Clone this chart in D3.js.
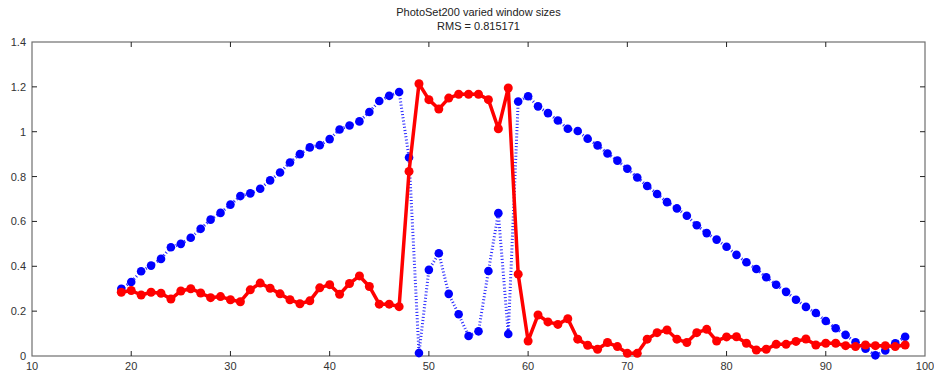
<!DOCTYPE html>
<html>
<head>
<meta charset="utf-8">
<script src="https://cdn.jsdelivr.net/npm/d3@7"></script>
<style>
  body { margin: 0; background: #fff; }
  text { font-family: "Liberation Sans", Arial, sans-serif; }
</style>
</head>
<body>
<svg id="canvas" width="934" height="375"></svg>
<script>
var xs = [19, 20, 21, 22, 23, 24, 25, 26, 27, 28, 29, 30, 31, 32, 33, 34, 35, 36, 37, 38,
    39, 40, 41, 42, 43, 44, 45, 46, 47, 48, 49, 50, 51, 52, 53, 54, 55, 56, 57, 58,
    59, 60, 61, 62, 63, 64, 65, 66, 67, 68, 69, 70, 71, 72, 73, 74, 75, 76, 77, 78,
    79, 80, 81, 82, 83, 84, 85, 86, 87, 88, 89, 90, 91, 92, 93, 94, 95, 96, 97, 98];

var blueValues = [0.30, 0.33, 0.378, 0.403, 0.433, 0.485, 0.50, 0.527, 0.567, 0.608,
    0.638, 0.675, 0.713, 0.725, 0.746, 0.783, 0.818, 0.863, 0.90, 0.93,
    0.94, 0.967, 1.01, 1.028, 1.046, 1.088, 1.137, 1.16, 1.177, 0.885,
    0.013, 0.384, 0.458, 0.277, 0.186, 0.089, 0.11, 0.379, 0.637, 0.098,
    1.135, 1.158, 1.113, 1.083, 1.05, 1.013, 1.003, 0.969, 0.939, 0.903,
    0.871, 0.835, 0.796, 0.758, 0.722, 0.686, 0.658, 0.625, 0.583, 0.548,
    0.519, 0.487, 0.451, 0.418, 0.388, 0.351, 0.318, 0.286, 0.251, 0.219,
    0.192, 0.156, 0.124, 0.094, 0.061, 0.033, 0.003, 0.025, 0.057, 0.086];

var redValues = [0.284, 0.292, 0.272, 0.284, 0.28, 0.254, 0.29, 0.30, 0.281, 0.26,
    0.265, 0.251, 0.242, 0.295, 0.325, 0.302, 0.277, 0.251, 0.233, 0.246,
    0.304, 0.318, 0.275, 0.323, 0.357, 0.31, 0.231, 0.231, 0.22, 0.823,
    1.214, 1.143, 1.101, 1.15, 1.167, 1.167, 1.167, 1.143, 1.013, 1.195,
    0.365, 0.067, 0.183, 0.152, 0.141, 0.166, 0.075, 0.048, 0.03, 0.06,
    0.042, 0.012, 0.012, 0.075, 0.104, 0.116, 0.075, 0.06, 0.104, 0.119,
    0.067, 0.085, 0.086, 0.057, 0.027, 0.03, 0.052, 0.052, 0.065, 0.076,
    0.049, 0.057, 0.057, 0.046, 0.042, 0.049, 0.046, 0.046, 0.042, 0.049];

var xTicks = [10, 20, 30, 40, 50, 60, 70, 80, 90, 100];
var yTicks = [0, 0.2, 0.4, 0.6, 0.8, 1, 1.2, 1.4];
var titleLines = ['PhotoSet200 varied window sizes', 'RMS = 0.815171'];

(function() {
    var svg = d3.select('#canvas');
    var left = 32, right = 925, plotTop = 42, plotBottom = 356;

    var x = d3.scaleLinear().domain([10, 100]).range([left, right]);
    var y = d3.scaleLinear().domain([0, 1.4]).range([plotBottom, plotTop]);

    var blue = xs.map(function(d, i) { return { x: d, y: blueValues[i] }; });
    var red = xs.map(function(d, i) { return { x: d, y: redValues[i] }; });

    var line = d3.line()
        .x(function(d) { return x(d.x); })
        .y(function(d) { return y(d.y); });

    // frame
    svg.append('rect')
        .attr('x', left)
        .attr('y', plotTop)
        .attr('width', right - left)
        .attr('height', plotBottom - plotTop)
        .attr('fill', 'none')
        .attr('stroke', '#6f6f6f')
        .attr('stroke-width', 1.2);

    // ticks on all four sides, pointing inward
    var tickLen = 5;
    xTicks.forEach(function(t) {
        if (t === 10 || t === 100) return;
        svg.append('line').attr('x1', x(t)).attr('x2', x(t))
            .attr('y1', plotBottom).attr('y2', plotBottom - tickLen)
            .attr('stroke', '#222').attr('stroke-width', 1);
        svg.append('line').attr('x1', x(t)).attr('x2', x(t))
            .attr('y1', plotTop).attr('y2', plotTop + tickLen)
            .attr('stroke', '#222').attr('stroke-width', 1);
    });
    yTicks.forEach(function(t) {
        if (t === 0 || t === 1.4) return;
        svg.append('line').attr('x1', left).attr('x2', left + tickLen)
            .attr('y1', y(t)).attr('y2', y(t))
            .attr('stroke', '#222').attr('stroke-width', 1);
        svg.append('line').attr('x1', right).attr('x2', right - tickLen)
            .attr('y1', y(t)).attr('y2', y(t))
            .attr('stroke', '#222').attr('stroke-width', 1);
    });

    svg.append('g').selectAll('text')
        .data(xTicks)
        .enter().append('text')
        .attr('x', function(d) { return x(d); })
        .attr('y', plotBottom + 14)
        .attr('text-anchor', 'middle')
        .attr('font-size', 11)
        .attr('fill', '#333')
        .text(function(d) { return d; });

    svg.append('g').selectAll('text')
        .data(yTicks)
        .enter().append('text')
        .attr('x', left - 6)
        .attr('y', function(d) { return y(d) + 4; })
        .attr('text-anchor', 'end')
        .attr('font-size', 11)
        .attr('fill', '#333')
        .text(function(d) { return d; });

    svg.append('g').selectAll('text')
        .data(titleLines)
        .enter().append('text')
        .attr('x', (left + right) / 2)
        .attr('y', function(d, i) { return 16 + i * 14; })
        .attr('text-anchor', 'middle')
        .attr('font-size', 11)
        .attr('fill', '#222')
        .text(function(d) { return d; });

    // blue dotted series
    svg.append('path')
        .datum(blue)
        .attr('d', line)
        .attr('fill', 'none')
        .attr('stroke', '#0000ff')
        .attr('stroke-width', 3)
        .attr('stroke-opacity', 0.85)
        .attr('stroke-dasharray', '1,2.2');

    svg.append('g').selectAll('circle')
        .data(blue)
        .enter().append('circle')
        .attr('cx', function(d) { return x(d.x); })
        .attr('cy', function(d) { return y(d.y); })
        .attr('r', 4.3)
        .attr('fill', '#0000ff');

    // red solid series
    svg.append('path')
        .datum(red)
        .attr('d', line)
        .attr('fill', 'none')
        .attr('stroke', '#ff0000')
        .attr('stroke-width', 3.5)
        .attr('stroke-linejoin', 'round');

    svg.append('g').selectAll('circle')
        .data(red)
        .enter().append('circle')
        .attr('cx', function(d) { return x(d.x); })
        .attr('cy', function(d) { return y(d.y); })
        .attr('r', 4.5)
        .attr('fill', '#ff0000');
})();
</script>
</body>
</html>
